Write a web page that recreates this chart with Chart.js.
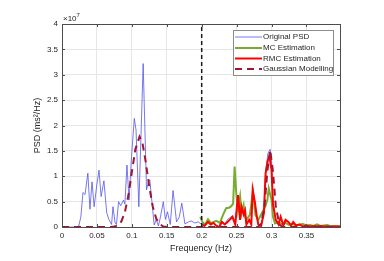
<!DOCTYPE html>
<html>
<head>
<meta charset="utf-8">
<script src="https://cdn.jsdelivr.net/npm/chart.js@4/dist/chart.umd.min.js"></script>
<style>
  html, body { margin: 0; padding: 0; background: #fff; }
  #wrap { width: 384px; height: 261px; }
</style>
</head>
<body>
<div id="wrap"><canvas id="psdChart" width="384" height="261"></canvas></div>
<script>
// --- DATA (PSD values in units of 1e7 ms^2/Hz) ---
const psdFreq = [0, 0.004, 0.008, 0.012, 0.016, 0.020, 0.024, 0.027, 0.030, 0.033, 0.037, 0.040, 0.043, 0.046, 0.050, 0.053, 0.056, 0.060, 0.064, 0.067, 0.071, 0.073, 0.076, 0.078, 0.081, 0.084, 0.088, 0.090, 0.093, 0.096, 0.0995, 0.1035, 0.106, 0.110, 0.1162, 0.121, 0.1235, 0.1257, 0.128, 0.132, 0.135, 0.138, 0.141, 0.145, 0.148, 0.151, 0.155, 0.159, 0.164, 0.168, 0.1715, 0.176, 0.181, 0.185, 0.190, 0.195, 0.200, 0.204, 0.209, 0.213, 0.217, 0.221, 0.225, 0.229, 0.233, 0.237, 0.240, 0.244, 0.248, 0.252, 0.255, 0.257, 0.260, 0.262, 0.264, 0.268, 0.271, 0.273, 0.276, 0.279, 0.281, 0.285, 0.289, 0.2915, 0.2948, 0.298, 0.300, 0.302, 0.306, 0.310, 0.313, 0.317, 0.320, 0.324, 0.328, 0.331, 0.335, 0.340, 0.345, 0.350, 0.360, 0.370, 0.380, 0.390, 0.398];
const psdVal = [0, 0, 0, 0, 0, 0, 0.02, 0.2, 0.68, 0.64, 1.06, 0.35, 0.89, 0.40, 0.85, 1.12, 0.60, 0.91, 0.28, 0.15, 0.05, 0.40, 0.08, 0.05, 0.50, 0.42, 0.53, 0.45, 1.22, 0.53, 1.38, 2.14, 1.91, 0.40, 3.22, 0.73, 0.88, 0.93, 0.60, 0.04, 0.15, 0.02, 0.20, 0.50, 0.15, 0.30, 0.05, 0.72, 0.10, 0.20, 0.47, 0.06, 0.10, 0.12, 0.08, 0.10, 0.05, 0.03, 0.10, 0.05, 0.08, 0.03, 0.01, 0.12, 0.05, 0.15, 0.18, 0.22, 0.06, 0.60, 0.15, 0.42, 0.25, 0.35, 0.06, 0.15, 0.05, 0.75, 0.50, 0.20, 0.05, 0.03, 0.30, 1.10, 1.45, 1.53, 1.30, 0.50, 0.15, 0.05, 0.20, 0.03, 0.14, 0.10, 0.03, 0.10, 0.03, 0.05, 0.01, 0.03, 0.02, 0.02, 0.01, 0.01, 0.01];

const mcFreq = [0.198, 0.201, 0.205, 0.209, 0.213, 0.217, 0.221, 0.226, 0.2305, 0.235, 0.239, 0.2424, 0.245, 0.2471, 0.2495, 0.252, 0.255, 0.257, 0.260, 0.262, 0.264, 0.269, 0.2733, 0.277, 0.281, 0.286, 0.291, 0.294, 0.296, 0.300, 0.302, 0.305, 0.310, 0.315, 0.320, 0.325, 0.330, 0.335, 0.340, 0.345, 0.350, 0.355, 0.360, 0.365, 0.370, 0.375, 0.380, 0.385, 0.390, 0.398];
const mcVal = [0.20, 0.10, 0.05, 0.15, 0.08, 0.10, 0.12, 0.08, 0.24, 0.37, 0.38, 0.41, 0.46, 1.19, 0.66, 0.33, 0.60, 0.27, 0.43, 0.20, 0.14, 0.24, 0.70, 0.24, 0.14, 0.27, 0.40, 0.53, 0.76, 0.53, 0.20, 0.07, 0.10, 0.05, 0.08, 0.04, 0.06, 0.03, 0.05, 0.06, 0.03, 0.04, 0.02, 0.05, 0.02, 0.03, 0.04, 0.01, 0.02, 0.01];

const rmcFreq = [0.200, 0.204, 0.209, 0.213, 0.217, 0.221, 0.225, 0.229, 0.233, 0.237, 0.240, 0.244, 0.248, 0.252, 0.255, 0.257, 0.260, 0.262, 0.264, 0.268, 0.271, 0.273, 0.276, 0.279, 0.281, 0.285, 0.289, 0.2915, 0.2948, 0.297, 0.300, 0.302, 0.306, 0.310, 0.313, 0.317, 0.320, 0.324, 0.328, 0.331, 0.335, 0.340, 0.345, 0.350, 0.355, 0.360, 0.365, 0.370, 0.375, 0.380, 0.390, 0.398];
const rmcVal = [0.05, 0.02, 0.10, 0.05, 0.08, 0.02, 0.00, 0.10, 0.05, 0.10, 0.14, 0.20, 0.05, 0.63, 0.14, 0.40, 0.25, 0.33, 0.05, 0.14, 0.05, 0.73, 0.50, 0.20, 0.05, 0.02, 0.27, 1.06, 1.32, 1.39, 1.12, 0.46, 0.14, 0.05, 0.20, 0.03, 0.14, 0.10, 0.03, 0.10, 0.03, 0.05, 0.01, 0.03, 0.01, 0.02, 0.01, 0.02, 0.01, 0.01, 0.01, 0.01];

const gaussFreq = [0, 0.070, 0.075, 0.080, 0.085, 0.090, 0.095, 0.100, 0.105, 0.111, 0.115, 0.120, 0.125, 0.130, 0.135, 0.140, 0.145, 0.150, 0.280, 0.285, 0.290, 0.294, 0.298, 0.302, 0.306, 0.311, 0.316, 0.398];
const gaussVal = [0, 0, 0.01, 0.03, 0.11, 0.29, 0.62, 1.08, 1.53, 1.78, 1.67, 1.27, 0.79, 0.40, 0.16, 0.06, 0.01, 0, 0, 0.05, 0.42, 1.10, 1.52, 1.10, 0.42, 0.05, 0, 0];

const splitFreq = [0.2, 0.2];
const splitVal = [0, 4];

const legendLabels = ['Original PSD', 'MC Estimation', 'RMC Estimation', 'Gaussian Modelling'];

const xTicksMax = 0.398;
const yTicksMax = 4;

function toPoints(xs, ys) {
    return xs.map((x, i) => ({ x: x, y: ys[i] }));
}

const FONT = "'Liberation Sans', Arial, sans-serif";
const TEXT = '#262626';

// box, inner tick marks, legend and exponent label (MATLAB style)
const matlabDecor = {
    id: 'matlabDecor',
    afterDatasetsDraw(chart) {
        const { ctx, chartArea: a, scales } = chart;
        ctx.save();
        // inner ticks
        ctx.strokeStyle = '#4d4d4d';
        ctx.lineWidth = 1;
        ctx.beginPath();
        scales.x.ticks.forEach(t => {
            const px = Math.round(scales.x.getPixelForValue(t.value)) + 0.5;
            ctx.moveTo(px, a.bottom); ctx.lineTo(px, a.bottom - 3);
            ctx.moveTo(px, a.top); ctx.lineTo(px, a.top + 3);
        });
        scales.y.ticks.forEach(t => {
            const py = Math.round(scales.y.getPixelForValue(t.value)) + 0.5;
            ctx.moveTo(a.left, py); ctx.lineTo(a.left + 3, py);
            ctx.moveTo(a.right, py); ctx.lineTo(a.right - 3, py);
        });
        ctx.stroke();
        // axes box
        ctx.strokeRect(Math.round(a.left) + 0.5, Math.round(a.top) + 0.5,
            Math.round(a.right - a.left), Math.round(a.bottom - a.top));

        // exponent label
        ctx.fillStyle = TEXT;
        ctx.textBaseline = 'alphabetic';
        ctx.textAlign = 'left';
        ctx.font = '8px ' + FONT;
        ctx.fillText('\u00d710', a.left + 1, a.top - 3);
        const w = ctx.measureText('\u00d710').width;
        ctx.font = '6px ' + FONT;
        ctx.fillText('7', a.left + 1 + w, a.top - 7);

        // legend
        const lx = 233, ly = 30, lw = 100, lh = 45;
        ctx.fillStyle = '#fff';
        ctx.fillRect(lx, ly, lw, lh);
        ctx.strokeStyle = '#8c8c8c';
        ctx.strokeRect(lx + 0.5, ly + 0.5, lw, lh);
        const rowsY = [37, 48, 58.5, 69];
        chart.data.datasets.slice(0, 4).forEach((ds, i) => {
            ctx.strokeStyle = ds.borderColor;
            ctx.lineWidth = ds.borderWidth;
            ctx.setLineDash(ds.borderDash || []);
            ctx.beginPath();
            ctx.moveTo(235, rowsY[i]);
            ctx.lineTo(262, rowsY[i]);
            ctx.stroke();
            ctx.setLineDash([]);
            ctx.fillStyle = TEXT;
            ctx.font = '8px ' + FONT;
            ctx.textBaseline = 'middle';
            ctx.fillText(legendLabels[i], 263, rowsY[i]);
        });
        ctx.restore();
    }
};

new Chart(document.getElementById('psdChart'), {
    type: 'line',
    data: {
        datasets: [
            {
                label: legendLabels[0],
                data: toPoints(psdFreq, psdVal),
                borderColor: 'rgb(85,85,235)',
                borderWidth: 0.8,
                order: 5
            },
            {
                label: legendLabels[1],
                data: toPoints(mcFreq, mcVal),
                borderColor: '#77ac30',
                borderWidth: 2,
                order: 4
            },
            {
                label: legendLabels[2],
                data: toPoints(rmcFreq, rmcVal),
                borderColor: '#ff0000',
                borderWidth: 2,
                order: 3
            },
            {
                label: legendLabels[3],
                data: toPoints(gaussFreq, gaussVal),
                borderColor: '#a2142f',
                borderWidth: 2,
                borderDash: [7, 5],
                order: 2
            },
            {
                label: 'split',
                data: toPoints(splitFreq, splitVal),
                borderColor: '#1a1a1a',
                borderWidth: 1.5,
                borderDash: [4, 3],
                order: 1
            }
        ]
    },
    options: {
        responsive: false,
        animation: false,
        layout: { padding: { left: 0, top: 24, right: 44, bottom: 0 } },
        elements: {
            point: { radius: 0 },
            line: { tension: 0, fill: false, borderCapStyle: 'butt' }
        },
        plugins: {
            legend: { display: false },
            tooltip: { enabled: false }
        },
        scales: {
            x: {
                type: 'linear',
                min: 0,
                max: xTicksMax,
                afterFit: s => { s.height = 34; },
                grid: { color: '#e6e6e6', drawTicks: false },
                border: { display: false },
                ticks: {
                    stepSize: 0.05,
                    includeBounds: false,
                    padding: 4,
                    maxRotation: 0,
                    color: TEXT,
                    font: { family: FONT, size: 8 },
                    callback: v => String(Math.round(v * 100) / 100)
                },
                title: {
                    display: true,
                    text: 'Frequency (Hz)',
                    color: TEXT,
                    font: { family: FONT, size: 9 },
                    padding: { top: 0, bottom: 7.5 }
                }
            },
            y: {
                type: 'linear',
                min: 0,
                max: yTicksMax,
                afterFit: s => { s.width = 62; },
                grid: { color: '#e6e6e6', drawTicks: false },
                border: { display: false },
                ticks: {
                    stepSize: 0.5,
                    padding: 4,
                    color: TEXT,
                    font: { family: FONT, size: 8 },
                    callback: v => String(Math.round(v * 10) / 10)
                },
                title: {
                    display: true,
                    text: 'PSD (ms\u00b2/Hz)',
                    color: TEXT,
                    font: { family: FONT, size: 9 },
                    padding: { top: 32.5, bottom: 0 }
                }
            }
        }
    },
    plugins: [matlabDecor]
});
</script>
</body>
</html>
